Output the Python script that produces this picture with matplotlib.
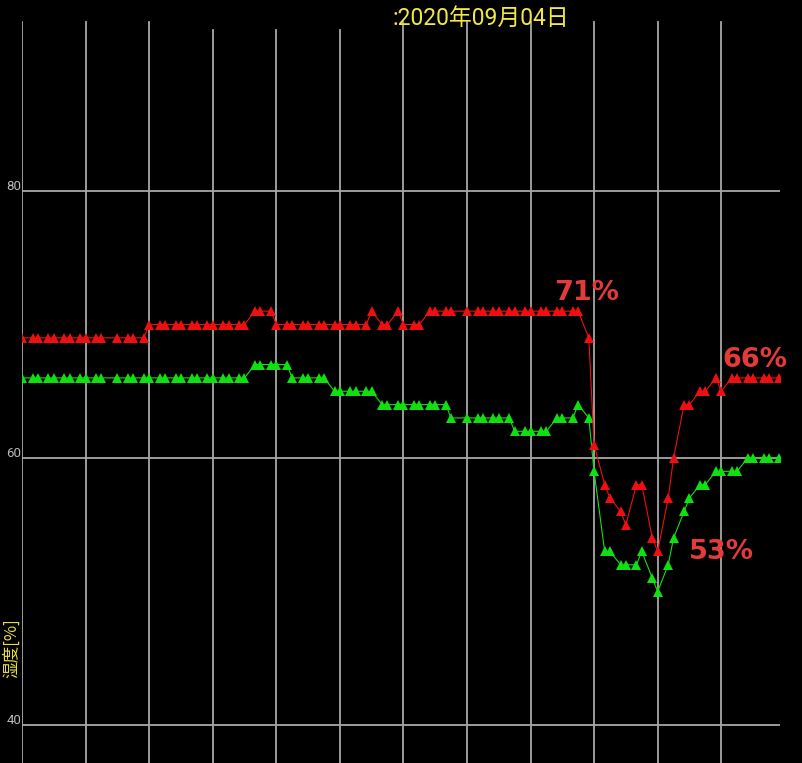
import matplotlib
matplotlib.use('Agg')
import matplotlib.pyplot as plt

# time of each reading, minutes after midnight
times = [0, 20, 30, 50, 60, 80, 90, 110, 120, 140, 150, 180, 200, 210, 230, 240,
         260, 270, 290, 300, 320, 330, 350, 360, 380, 390, 410, 420, 440, 450,
         470, 480, 500, 510, 530, 540, 560, 570, 590, 600, 620, 630, 650, 660,
         680, 690, 710, 720, 740, 750, 770, 780, 800, 810, 840, 860, 870, 890, 900,
         920, 930, 950, 960, 980, 990, 1010, 1020, 1040, 1050, 1070, 1080,
         1100, 1110, 1130, 1140, 1160, 1170, 1190, 1200, 1220, 1230, 1250, 1260,
         1280, 1290, 1310, 1320, 1340, 1350, 1370, 1380, 1400, 1410, 1430]
red = [69, 69, 69, 69, 69, 69, 69, 69, 69, 69, 69, 69, 69, 69, 69, 70,
       70, 70, 70, 70, 70, 70, 70, 70, 70, 70, 70, 70, 71, 71,
       71, 70, 70, 70, 70, 70, 70, 70, 70, 70, 70, 70, 70, 71,
       70, 70, 71, 70, 70, 70, 71, 71, 71, 71, 71, 71, 71, 71, 71,
       71, 71, 71, 71, 71, 71, 71, 71, 71, 71, 69, 61,
       58, 57, 56, 55, 58, 58, 54, 53, 57, 60, 64, 64,
       65, 65, 66, 65, 66, 66, 66, 66, 66, 66, 66]
green = [66, 66, 66, 66, 66, 66, 66, 66, 66, 66, 66, 66, 66, 66, 66, 66,
         66, 66, 66, 66, 66, 66, 66, 66, 66, 66, 66, 66, 67, 67,
         67, 67, 67, 66, 66, 66, 66, 66, 65, 65, 65, 65, 65, 65,
         64, 64, 64, 64, 64, 64, 64, 64, 64, 63, 63, 63, 63, 63, 63,
         63, 62, 62, 62, 62, 62, 63, 63, 63, 64, 63, 59,
         53, 53, 52, 52, 52, 53, 51, 50, 52, 54, 56, 57,
         58, 58, 59, 59, 59, 59, 60, 60, 60, 60, 60]

y_ticks = [40, 60, 80]
x_grid = [0, 120, 240, 360, 480, 600, 720, 840, 960, 1080, 1200, 1320]
grid_top = [0.971, 0.971, 0.971, 0.961, 0.961, 0.961, 0.971, 0.971, 0.971, 0.971, 0.971, 0.971]

annotations = [("71%", 1066, 71.85), ("66%", 1384, 66.8), ("53%", 1320, 52.4)]
title = ":2020年09月04日"
ylabel = "湿度[%]"

fig = plt.figure(figsize=(8.02, 7.63), dpi=100, facecolor='black')
ax = fig.add_axes([22/802, 0, 758/802, 1])
ax.set_facecolor('black')
ax.set_xlim(0, 1431)
ax.set_ylim(37.154, 94.307)
for s in ax.spines.values():
    s.set_visible(False)
ax.set_xticks([])
ax.set_yticks([])

gcol = '#a8a8a8'
for xg, top in zip(x_grid, grid_top):
    ax.axvline(xg, ymin=0, ymax=top, color=gcol, lw=1.3, zorder=1)
for yt in y_ticks:
    ax.axhline(yt, color=gcol, lw=1.3, zorder=1)
    ax.text(-0.001, yt + 0.05, str(yt), transform=ax.get_yaxis_transform(),
            ha='right', va='baseline', color='#b8b8b8', fontsize=9.5,
            family=['Roboto', 'DejaVu Sans'], clip_on=False)

ax.plot(times, green, color='#10e010', lw=0.8, marker='^', markersize=7,
        markeredgewidth=0, zorder=3, clip_on=True)
ax.plot(times, red, color='#ee1010', lw=0.8, marker='^', markersize=7,
        markeredgewidth=0, zorder=4, clip_on=True)

for txt, xa, ya in annotations:
    ax.text(xa, ya, txt, color='#e33a3a', fontsize=19.5, fontweight='bold',
            ha='center', va='baseline', family='DejaVu Sans', zorder=5)

fig.text(392/802, 1 - 25/763, title, color='#f2e84a', fontsize=16.5,
         ha='left', va='baseline', family=['Roboto', 'Noto Sans CJK JP', 'DejaVu Sans'])
fig.text(12/802, 1 - 648/763, ylabel, color='#e8e040', fontsize=12,
         rotation=90, ha='center', va='center',
         family=['Noto Sans CJK JP', 'DejaVu Sans'])

fig.savefig('out.png', dpi=100, facecolor='black')
